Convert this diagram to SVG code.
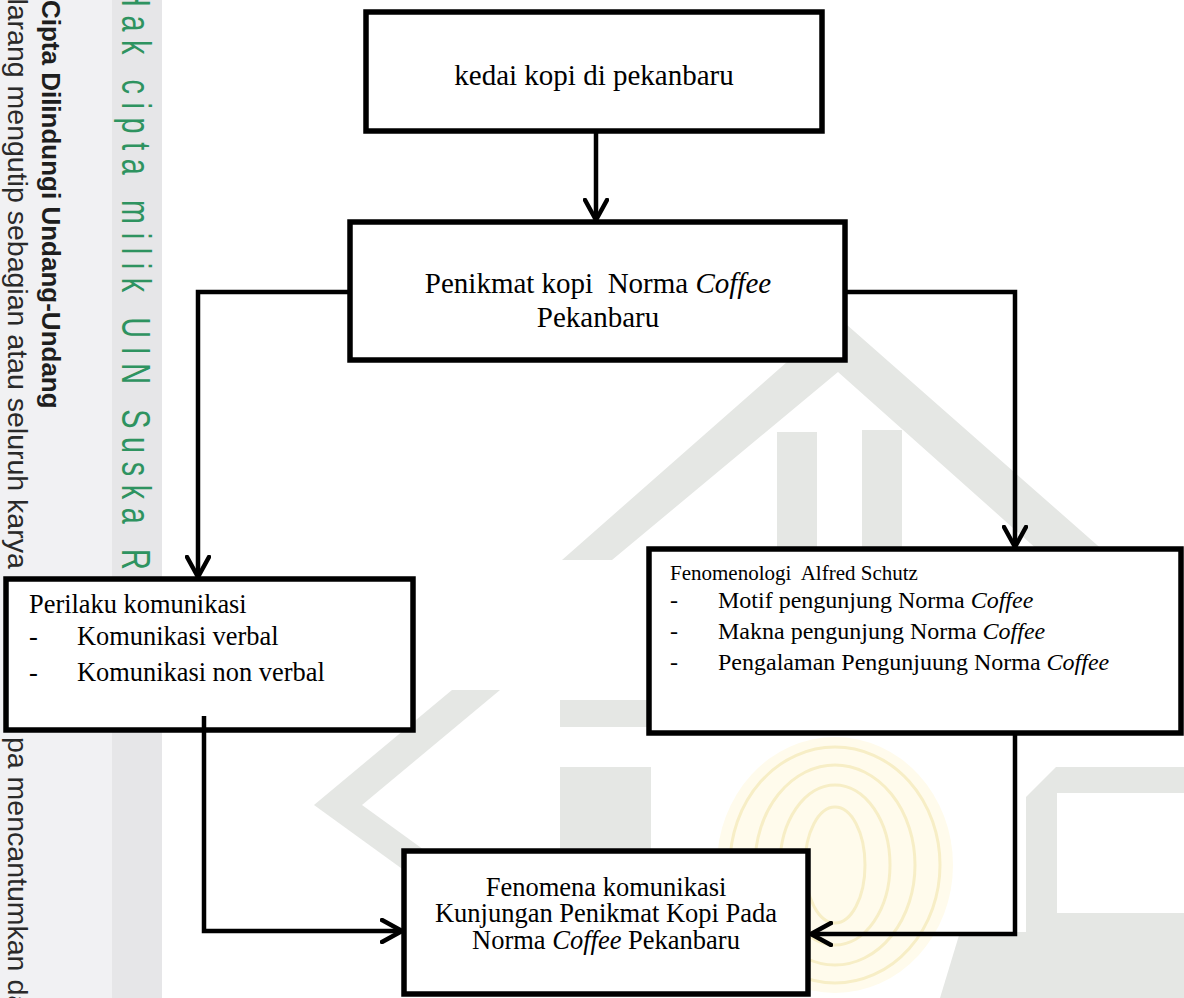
<svg xmlns="http://www.w3.org/2000/svg" width="1184" height="998" viewBox="0 0 1184 998">
<defs>
<style>
.box{fill:#fff;stroke:#000;stroke-width:5.5}
.con{fill:none;stroke:#000;stroke-width:4.5;marker-end:url(#arr)}
.t{font-family:"Liberation Serif","Times New Roman",serif;fill:#000;white-space:pre}
.it{font-style:italic}
.wm{font-family:"Liberation Sans",Arial,sans-serif;white-space:pre}
.logo{fill:#e5e7e4}
.emb{fill:none;stroke:#f7eec6;stroke-width:3}
</style>
<marker id="arr" viewBox="0 0 24 26" refX="22" refY="13" markerWidth="24" markerHeight="26" orient="auto" markerUnits="userSpaceOnUse">
<path d="M2,2 L22,13 L2,24" fill="none" stroke="#000" stroke-width="4.5" stroke-linejoin="round" stroke-linecap="round"/>
</marker>
</defs>
<rect x="0" y="0" width="1184" height="998" fill="#fff"/>
<g id="watermark-logo">
<polygon class="logo" points="562,560 838,317 1105,552 1040,552 838,372 612,560"/>
<rect class="logo" x="777" y="432" width="40" height="128"/>
<rect class="logo" x="862" y="430" width="40" height="130"/>
<polygon class="logo" points="452,690 500,690 362,805 500,905 452,905 314,805"/>
<rect class="logo" x="560" y="700" width="91" height="27"/>
<polygon class="logo" points="560,767 651,767 651,940 560,940"/>
<path class="logo" d="M1056,767 H1184 V793 H1057 V913 H1184 V932 H1026 V797 Z"/>
<polygon class="logo" points="960,932 1184,932 1184,998 940,998"/>
<ellipse cx="835" cy="865" rx="118" ry="128" fill="#fffbec"/>
<ellipse class="emb" cx="835" cy="865" rx="105" ry="118"/>
<ellipse class="emb" cx="835" cy="865" rx="80" ry="100"/>
<ellipse class="emb" cx="835" cy="865" rx="55" ry="80"/>
<ellipse class="emb" cx="835" cy="865" rx="30" ry="58"/>
</g>
<g id="watermark-strip">
<rect x="0" y="0" width="112" height="998" fill="#f1f1f3"/>
<rect x="112" y="0" width="50" height="998" fill="#e6e6e8"/>
<text class="wm" transform="translate(42,-55) rotate(90)" font-size="26" font-weight="bold" fill="#1e1e1e">Hak Cipta Dilindungi Undang-Undang</text>
<text class="wm" transform="translate(8,-28.5) rotate(90)" font-size="28.5" fill="#2a2a2a">Dilarang mengutip sebagian atau seluruh karya tulis ini tan</text>
<text class="wm" transform="translate(8,737) rotate(90)" font-size="28.5" fill="#2a2a2a">pa mencantumkan dan menyebutkan sumber</text>
<text class="wm" transform="translate(122,-14) rotate(90) scale(0.72,1)" font-size="40" fill="#2e9360" textLength="900" lengthAdjust="spacing">Hak cipta milik UIN Suska Riau</text>
</g>
<g id="node-kedai">
<rect class="box" x="366" y="12" width="456" height="119"/>
<text class="t" x="594" y="85" font-size="29" text-anchor="middle">kedai kopi di pekanbaru</text>
</g>
<g id="node-penikmat">
<rect class="box" x="350" y="222" width="495" height="138"/>
<text class="t" x="598" y="293" font-size="29" text-anchor="middle">Penikmat kopi  Norma <tspan class="it">Coffee</tspan></text>
<text class="t" x="598" y="327" font-size="29" text-anchor="middle">Pekanbaru</text>
</g>
<g id="node-perilaku">
<rect class="box" x="6" y="579" width="407" height="151"/>
<text class="t" x="29" y="613" font-size="26.4">Perilaku komunikasi</text>
<text class="t" x="29" y="645" font-size="26.4">-</text>
<text class="t" x="77" y="645" font-size="26.4">Komunikasi verbal</text>
<text class="t" x="29" y="681" font-size="26.4">-</text>
<text class="t" x="77" y="681" font-size="26.4">Komunikasi non verbal</text>
</g>
<g id="node-fenomenologi">
<rect class="box" x="649" y="549" width="532" height="184"/>
<text class="t" x="670" y="580" font-size="21">Fenomenologi  Alfred Schutz</text>
<text class="t" x="670" y="608" font-size="24">-</text>
<text class="t" x="718" y="608" font-size="24">Motif pengunjung Norma <tspan class="it">Coffee</tspan></text>
<text class="t" x="670" y="639" font-size="24">-</text>
<text class="t" x="718" y="639" font-size="24">Makna pengunjung Norma <tspan class="it">Coffee</tspan></text>
<text class="t" x="670" y="670" font-size="24">-</text>
<text class="t" x="718" y="670" font-size="24">Pengalaman Pengunjuung Norma <tspan class="it">Coffee</tspan></text>
</g>
<g id="node-fenomena">
<rect class="box" x="404" y="851" width="404" height="143"/>
<text class="t" x="606" y="896" font-size="26.5" text-anchor="middle">Fenomena komunikasi</text>
<text class="t" x="606" y="922" font-size="26.5" text-anchor="middle">Kunjungan Penikmat Kopi Pada</text>
<text class="t" x="606" y="949" font-size="26.5" text-anchor="middle">Norma <tspan class="it">Coffee</tspan> Pekanbaru</text>
</g>
<g id="connectors">
<path class="con" d="M596,131 V220"/>
<path class="con" d="M350,292 H198 V577"/>
<path class="con" d="M845,292 H1015 V547"/>
<path class="con" d="M204,716 V931 H402"/>
<path class="con" d="M1015,733 V934 H811"/>
</g>
</svg>
